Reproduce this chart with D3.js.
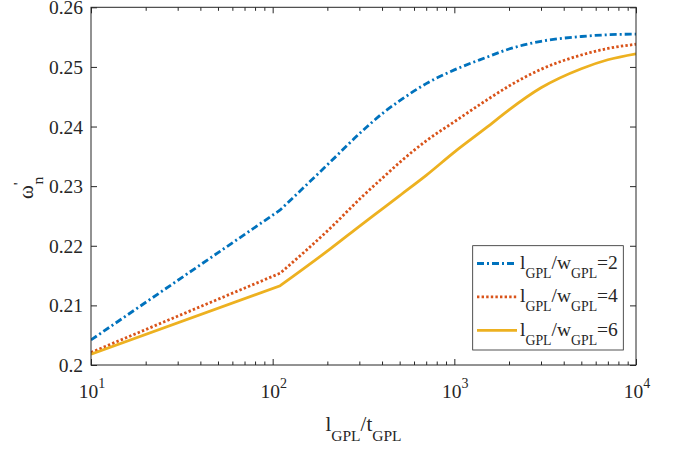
<!DOCTYPE html>
<html><head><meta charset="utf-8">
<script src="https://cdn.jsdelivr.net/npm/d3@7"></script>
<style>body{margin:0;background:#fff}svg text{font-family:"Liberation Serif","Times New Roman",serif;fill:#262626}</style></head>
<body><svg id="c" width="674" height="452"></svg>
<script>
// ---- data ----
const xValues = [10, 110, 210, 310, 410, 510, 700, 1000, 1500, 2000, 3000, 5000, 7000, 10000];
const ratio2 = [0.2042, 0.2260, 0.2342, 0.2392, 0.2424, 0.2445, 0.2472, 0.2495, 0.2516, 0.2530, 0.2543, 0.2551, 0.2554, 0.2555];
const ratio4 = [0.2021, 0.2154, 0.2231, 0.2282, 0.2316, 0.2342, 0.2376, 0.2408, 0.2444, 0.2468, 0.2496, 0.2520, 0.2531, 0.2538];
const ratio6 = [0.2018, 0.2133, 0.2196, 0.2236, 0.2264, 0.2286, 0.2318, 0.2357, 0.2398, 0.2428, 0.2465, 0.2497, 0.2512, 0.2522];
const ratioLabels = ["2", "4", "6"];
const yTicks = [0.2, 0.21, 0.22, 0.23, 0.24, 0.25, 0.26];
const yTickLabels = ["0.2", "0.21", "0.22", "0.23", "0.24", "0.25", "0.26"];
const xTicks = [10, 100, 1000, 10000];
const xTickExponents = ["1", "2", "3", "4"];

// ---- styles ----
const colors = ["#0072BD", "#D95319", "#EDB120"];
const dashes = ["7,3,2,3", "2.4,2.2", null];
const series = [ratio2, ratio4, ratio6];

const svg = d3.select("#c");
const L = 91, R = 636, T = 7.3, B = 365;
const x = d3.scaleLog().domain([10, 10000]).range([L, R]);
const y = d3.scaleLinear().domain([0.2, 0.26]).range([B, T]);
const axisColor = "#262626";

// minor ticks
const minor = [];
for (let e = 1; e < 4; e++) for (let m = 2; m <= 9; m++) minor.push(m * Math.pow(10, e));

function styleAxis(g) {
  g.select(".domain").remove();
  g.selectAll("line").attr("stroke", axisColor).attr("stroke-width", 1);
  g.selectAll("text").remove();
}
svg.append("g").attr("transform", `translate(0,${B})`).call(d3.axisBottom(x).tickValues(xTicks).tickSize(-6).tickFormat("")).call(styleAxis);
svg.append("g").attr("transform", `translate(0,${B})`).call(d3.axisBottom(x).tickValues(minor).tickSize(-3.5).tickFormat("")).call(styleAxis);
svg.append("g").attr("transform", `translate(0,${T})`).call(d3.axisTop(x).tickValues(xTicks).tickSize(-6).tickFormat("")).call(styleAxis);
svg.append("g").attr("transform", `translate(0,${T})`).call(d3.axisTop(x).tickValues(minor).tickSize(-3.5).tickFormat("")).call(styleAxis);
svg.append("g").attr("transform", `translate(${L},0)`).call(d3.axisLeft(y).tickValues(yTicks).tickSize(-6).tickFormat("")).call(styleAxis);
svg.append("g").attr("transform", `translate(${R},0)`).call(d3.axisRight(y).tickValues(yTicks).tickSize(-6).tickFormat("")).call(styleAxis);

// y tick labels
svg.append("g").selectAll("text").data(yTicks).join("text")
  .attr("x", L - 8).attr("y", d => y(d) + 7)
  .attr("text-anchor", "end").attr("font-size", 19.5)
  .text((d, i) => yTickLabels[i]);

// x tick labels 10^n
const xl = svg.append("g").selectAll("text").data(xTicks).join("text")
  .attr("x", d => x(d) + 1).attr("y", 398)
  .attr("text-anchor", "middle").attr("font-size", 19.5);
xl.append("tspan").text("10");
xl.append("tspan").attr("dy", -10).attr("font-size", 14).text((d, i) => xTickExponents[i]);

// lines
svg.append("clipPath").attr("id", "clip").append("rect")
  .attr("x", L).attr("y", T).attr("width", R - L).attr("height", B - T);
const lineGen = d3.line().x(d => x(d[0])).y(d => y(d[1])).curve(d3.curveMonotoneX);
series.forEach((s, i) => {
  const pts = xValues.map((v, j) => [v, s[j]]);
  const rest = lineGen(pts.slice(1));
  const p = `M${x(pts[0][0])},${y(pts[0][1])}` + rest.replace(/^M/, "L");
  svg.append("path").attr("d", p).attr("fill", "none")
    .attr("stroke", colors[i]).attr("stroke-width", 2.8)
    .attr("stroke-dasharray", dashes[i]).attr("clip-path", "url(#clip)");
});

// frame
svg.append("rect").attr("x", L).attr("y", T).attr("width", R - L).attr("height", B - T)
  .attr("fill", "none").attr("stroke", axisColor).attr("stroke-width", 1);

// legend
const lg = svg.append("g");
lg.append("rect").attr("x", 472.7).attr("y", 245.7).attr("width", 150.6).attr("height", 104.3)
  .attr("fill", "#fff").attr("stroke", axisColor).attr("stroke-width", 0.8);
ratioLabels.forEach((r, i) => {
  const ly = 263.5 + i * 33.4;
  lg.append("line").attr("x1", 477).attr("x2", 517).attr("y1", ly).attr("y2", ly)
    .attr("stroke", colors[i]).attr("stroke-width", 2.8).attr("stroke-dasharray", dashes[i]);
  const t = lg.append("text").attr("x", 520).attr("y", ly + 5.5).attr("font-size", 19.5);
  t.append("tspan").text("l");
  t.append("tspan").attr("dy", 9).attr("font-size", 13.8).text("GPL");
  t.append("tspan").attr("dy", -9).text("/w");
  t.append("tspan").attr("dy", 9).attr("font-size", 13.8).text("GPL");
  t.append("tspan").attr("dy", -9).text("=" + r);
});

// x axis label
const xt = svg.append("text").attr("x", (L + R) / 2).attr("y", 431).attr("text-anchor", "middle").attr("font-size", 21);
xt.append("tspan").text("l");
xt.append("tspan").attr("dy", 10).attr("font-size", 15.5).text("GPL");
xt.append("tspan").attr("dy", -10).text("/t");
xt.append("tspan").attr("dy", 10).attr("font-size", 15.5).text("GPL");

// y axis label
const yt = svg.append("text").attr("transform", "translate(33,199) rotate(-90)").attr("font-size", 21);
yt.append("tspan").text("ω");
yt.append("tspan").attr("dy", -9).attr("font-size", 15.5).text("'");
yt.append("tspan").attr("dx", -2).attr("dy", 19).attr("font-size", 15.5).text("n");
</script></body></html>
